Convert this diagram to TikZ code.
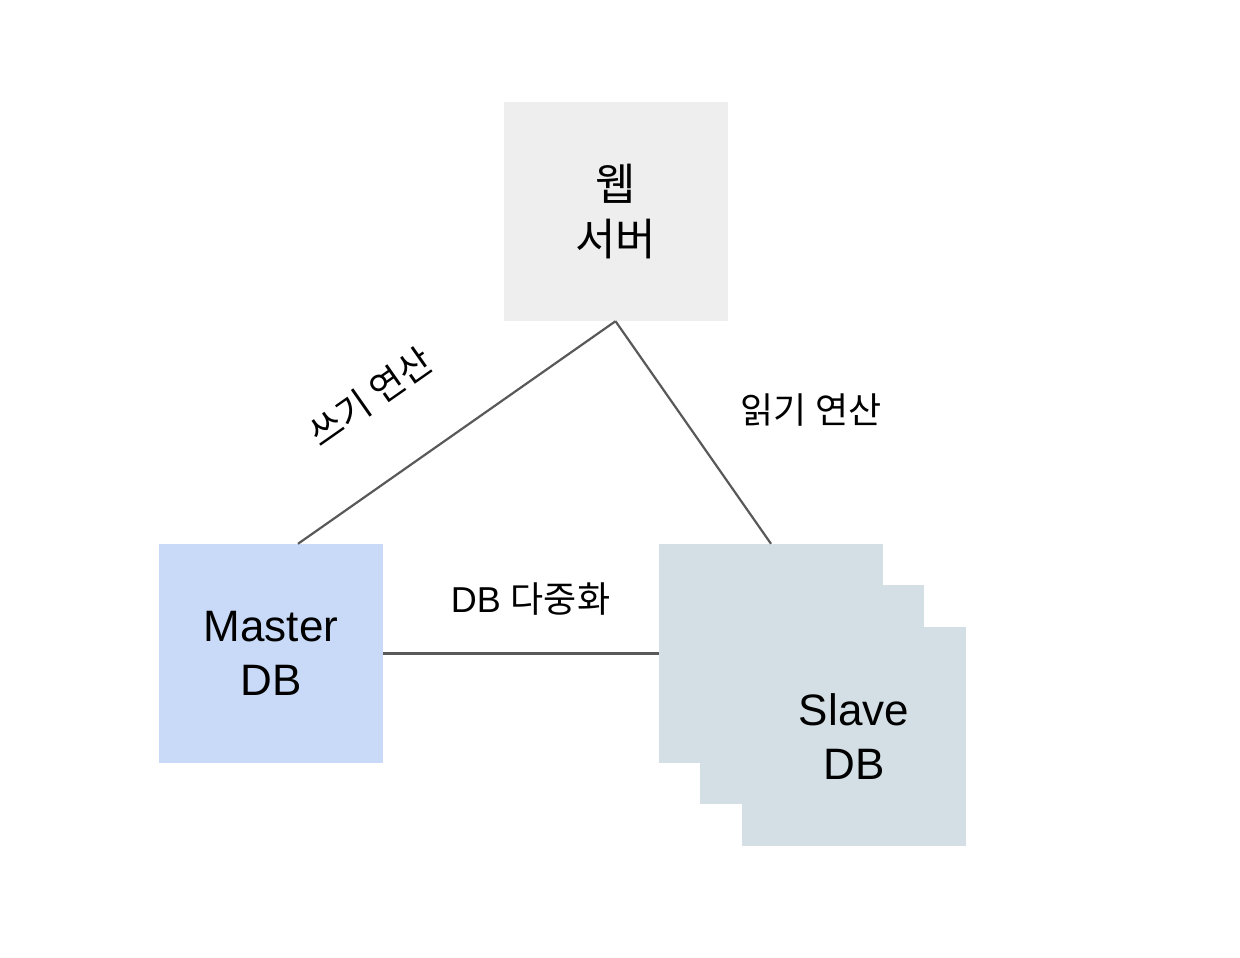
\documentclass[tikz,border=0pt]{standalone}
\usepackage{fontspec}
\setmainfont{Liberation Sans}
\newfontfamily\kr{Noto Sans CJK KR}
\usepackage{xcolor}
\usetikzlibrary{positioning}
\definecolor{webgray}{HTML}{EEEEEE}
\definecolor{masterblue}{HTML}{C9DAF8}
\definecolor{slavecyan}{HTML}{D3DFE4}
\definecolor{linegray}{HTML}{595959}

\begin{document}
\begin{tikzpicture}[
  x=1pt,y=-1pt,
  box/.style={minimum width=224pt,minimum height=219pt,inner sep=0pt,align=center,
              font=\fontsize{44}{54}\selectfont},
  lbl/.style={font=\kr\fontsize{36}{42}\selectfont,inner sep=0pt},
  conn/.style={linegray,line width=2.2pt},
]
\useasboundingbox (0,0) rectangle (1240,958);
\node[box,fill=webgray,font=\kr\fontsize{44}{55}\selectfont] (web) at (615.5,211.5) {웹\\서버};
\node[box,fill=masterblue] (master) at (271,653.5) {Master\\DB};
% slave stack, back to front
\node[box,fill=slavecyan] (slave1) at (771,653.5) {};
\node[box,fill=slavecyan] (slave2) at (812,694.5) {};
\node[box,fill=slavecyan] (slave3) at (854,736.5) {Slave\\DB};
\draw[conn] (web.south) -- ([xshift=27pt]master.north);
\draw[conn] (web.south) -- (slave1.north);
\draw[conn] (master.east) -- (slave1.west);
\node[lbl,rotate=35] (write) at (370,397) {쓰기 연산};
\node[lbl] (read) at (811,410) {읽기 연산};
\node[lbl] (repl) at (530.5,599) {\rmfamily DB {\kr 다중화}};
\end{tikzpicture}
\end{document}
